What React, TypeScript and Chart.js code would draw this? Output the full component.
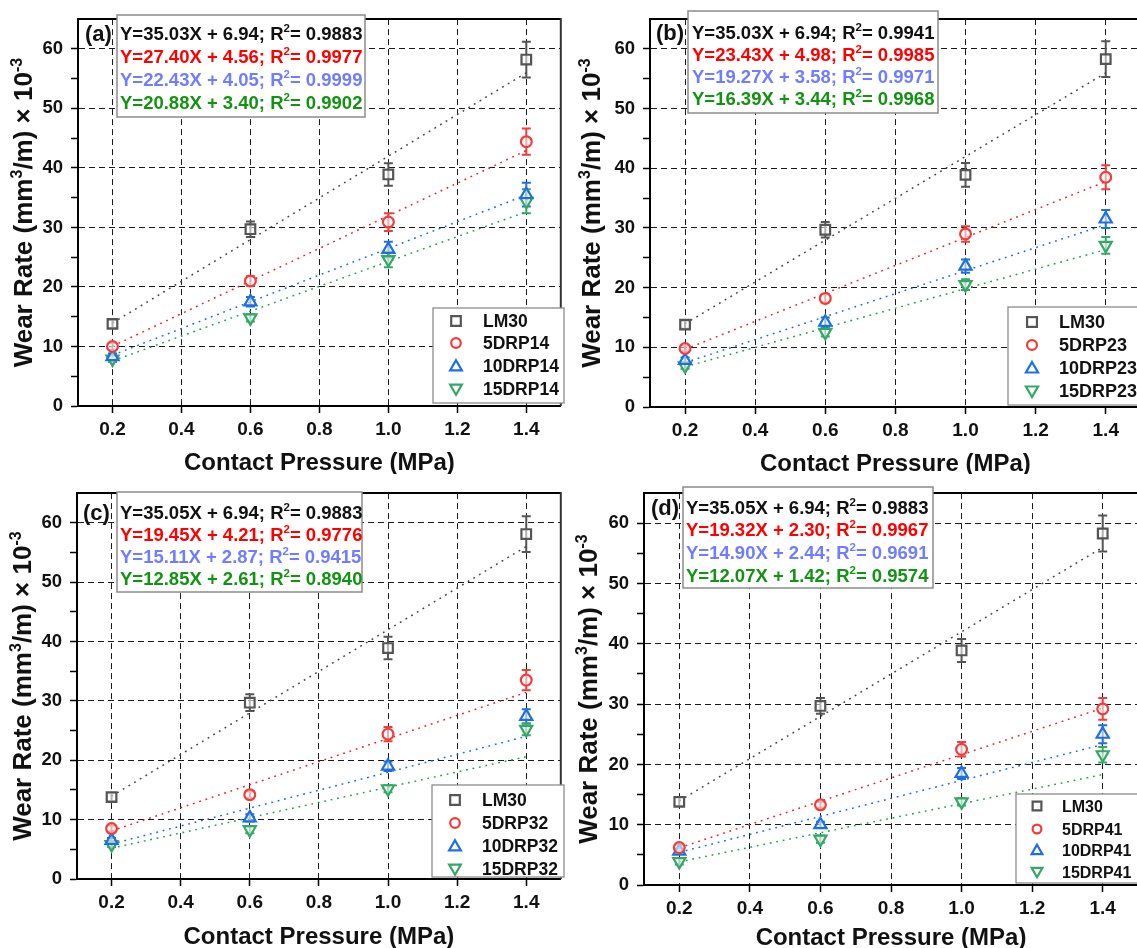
import React, { useEffect, useRef } from 'react';
import { Chart, registerables } from 'chart.js';

Chart.register(...registerables);

const FONT = "'Liberation Sans', Arial, Helvetica, sans-serif";

// ---------- data ----------
const pressure = [0.2, 0.6, 1.0, 1.4];
const xTickValues = [0.2, 0.4, 0.6, 0.8, 1.0, 1.2, 1.4];
const yTickValues = [0, 5, 10, 15, 20, 25, 30, 35, 40, 45, 50, 55, 60];

// panel (a)
const namesA = ['LM30', '5DRP14', '10DRP14', '15DRP14'];
const lm30A = [13.8, 29.7, 38.9, 58.2];
const lm30ErrA = [0.7, 1.3, 1.9, 3.0];
const drp5A = [10.0, 21.0, 30.9, 44.4];
const drp5ErrA = [0.6, 0.8, 1.5, 2.2];
const drp10A = [8.3, 17.5, 26.3, 35.5];
const drp10ErrA = [0.5, 0.8, 1.3, 2.0];
const drp15A = [7.9, 14.8, 24.6, 34.4];
const drp15ErrA = [0.5, 0.6, 1.3, 2.0];
const slopesA = [35.03, 27.40, 22.43, 20.88];
const interceptsA = [6.94, 4.56, 4.05, 3.40];
const r2A = ['0.9883', '0.9977', '0.9999', '0.9902'];

// panel (b)
const namesB = ['LM30', '5DRP23', '10DRP23', '15DRP23'];
const lm30B = [13.8, 29.7, 38.9, 58.3];
const lm30ErrB = [0.7, 1.3, 2.0, 3.0];
const drp5B = [9.8, 18.2, 29.0, 38.5];
const drp5ErrB = [0.5, 0.7, 1.3, 2.0];
const drp10B = [7.8, 14.2, 23.6, 31.5];
const drp10ErrB = [0.5, 0.8, 1.1, 1.5];
const drp15B = [6.9, 12.5, 20.5, 27.1];
const drp15ErrB = [0.5, 0.7, 0.9, 1.4];
const slopesB = [35.03, 23.43, 19.27, 16.39];
const interceptsB = [6.94, 4.98, 3.58, 3.44];
const r2B = ['0.9941', '0.9985', '0.9971', '0.9968'];

// panel (c)
const namesC = ['LM30', '5DRP32', '10DRP32', '15DRP32'];
const lm30C = [13.8, 29.7, 38.9, 58.1];
const lm30ErrC = [0.7, 1.4, 1.9, 3.0];
const drp5C = [8.5, 14.2, 24.4, 33.5];
const drp5ErrC = [0.5, 0.6, 1.2, 1.7];
const drp10C = [6.5, 10.3, 19.0, 27.4];
const drp10ErrC = [0.4, 0.6, 0.8, 1.2];
const drp15C = [5.8, 8.3, 15.2, 25.2];
const drp15ErrC = [0.4, 0.6, 0.6, 1.0];
const slopesC = [35.05, 19.45, 15.11, 12.85];
const interceptsC = [6.94, 4.21, 2.87, 2.61];
const r2C = ['0.9883', '0.9776', '0.9415', '0.8940'];

// panel (d)
const namesD = ['LM30', '5DRP41', '10DRP41', '15DRP41'];
const lm30D = [13.8, 29.7, 38.9, 58.3];
const lm30ErrD = [0.7, 1.3, 1.9, 3.0];
const drp5D = [6.2, 13.3, 22.5, 29.2];
const drp5ErrD = [0.5, 0.5, 1.2, 1.8];
const drp10D = [5.6, 10.0, 18.5, 25.0];
const drp10ErrD = [0.4, 0.5, 0.9, 1.5];
const drp15D = [3.9, 7.6, 13.8, 21.6];
const drp15ErrD = [0.5, 0.6, 0.6, 1.3];
const slopesD = [35.05, 19.32, 14.90, 12.07];
const interceptsD = [6.94, 2.30, 2.44, 1.42];
const r2D = ['0.9883', '0.9967', '0.9691', '0.9574'];

// ---------- styles ----------
const markerColors = ['#555555', '#f03c3c', '#1f6fe0', '#35a866'];
const trendColors = ['#444444', '#e8202a', '#1a6be0', '#20a050'];
const eqColors = ['#111111', '#ff0000', '#6f7dff', '#129312'];
const pointStyles = ['rect', 'circle', 'triangle', 'triangle'];
const pointRotations = [0, 0, 0, 180];
const pointRadii = [6.8, 5.4, 7, 7];

type Seg = { t: string; sup?: boolean };

function drawRich(ctx: CanvasRenderingContext2D, segs: Seg[], x: number, y: number, size: number, color: string) {
  ctx.fillStyle = color;
  ctx.textBaseline = 'alphabetic';
  ctx.textAlign = 'left';
  let cx = x;
  for (const s of segs) {
    const fs = s.sup ? size * 0.62 : size;
    ctx.font = `bold ${fs}px ${FONT}`;
    ctx.fillText(s.t, cx, s.sup ? y - size * 0.4 : y);
    cx += ctx.measureText(s.t).width;
  }
  return cx - x;
}

function richWidth(ctx: CanvasRenderingContext2D, segs: Seg[], size: number) {
  let w = 0;
  for (const s of segs) {
    const fs = s.sup ? size * 0.62 : size;
    ctx.font = `bold ${fs}px ${FONT}`;
    w += ctx.measureText(s.t).width;
  }
  return w;
}

function drawMarker(ctx: CanvasRenderingContext2D, idx: number, x: number, y: number, scale: number) {
  ctx.save();
  ctx.strokeStyle = markerColors[idx];
  ctx.fillStyle = '#ffffff';
  ctx.lineWidth = 2.2;
  ctx.beginPath();
  if (idx === 0) {
    const s = 4.8 * scale;
    ctx.rect(x - s, y - s, 2 * s, 2 * s);
  } else if (idx === 1) {
    ctx.arc(x, y, 4.8 * scale, 0, Math.PI * 2);
  } else {
    const r = 6.8 * scale;
    const rot = idx === 3 ? Math.PI : 0;
    let a = rot;
    const cy = y + (idx === 3 ? -1 : 1);
    ctx.moveTo(x + Math.sin(a) * r, cy - Math.cos(a) * r);
    a += (2 * Math.PI) / 3;
    ctx.lineTo(x + Math.sin(a) * r, cy - Math.cos(a) * r);
    a += (2 * Math.PI) / 3;
    ctx.lineTo(x + Math.sin(a) * r, cy - Math.cos(a) * r);
    ctx.closePath();
  }
  ctx.fill();
  ctx.stroke();
  ctx.restore();
}

type Geo = {
  cx: number; cy: number; cw: number; ch: number;
  area: { l: number; r: number; t: number; b: number };
  yTitleX: number; xTitleY: number;
  eq: { l: number; t: number; r: number; b: number; textX: number; lines: number[]; labelX: number; size: number };
  leg: { l: number; t: number; r: number; b: number; markerX: number; textX: number; rows: number[]; size: number };
};

type PanelDef = {
  tag: string;
  names: string[];
  values: number[][];
  errors: number[][];
  slopes: number[];
  intercepts: number[];
  r2: string[];
  geo: Geo;
};

const panels: PanelDef[] = [
  {
    tag: '(a)', names: namesA,
    values: [lm30A, drp5A, drp10A, drp15A],
    errors: [lm30ErrA, drp5ErrA, drp10ErrA, drp15ErrA],
    slopes: slopesA, intercepts: interceptsA, r2: r2A,
    geo: {
      cx: 0, cy: 0, cw: 570, ch: 474,
      area: { l: 78, r: 566, t: 13, b: 406 },
      yTitleX: 23, xTitleY: 461,
      eq: { l: 117, t: 15, r: 365, b: 117, textX: 120, lines: [33, 56, 79, 102], labelX: 85, size: 18.5 },
      leg: { l: 433, t: 308, r: 564, b: 403, markerX: 456, textX: 483, rows: [321, 343, 366, 389], size: 17.5 },
    },
  },
  {
    tag: '(b)', names: namesB,
    values: [lm30B, drp5B, drp10B, drp15B],
    errors: [lm30ErrB, drp5ErrB, drp10ErrB, drp15ErrB],
    slopes: slopesB, intercepts: interceptsB, r2: r2B,
    geo: {
      cx: 570, cy: 0, cw: 580, ch: 474,
      area: { l: 650, r: 1142, t: 10, b: 407 },
      yTitleX: 591, xTitleY: 462,
      eq: { l: 688, t: 11, r: 938, b: 113, textX: 692, lines: [32, 54, 76, 98], labelX: 656, size: 18.5 },
      leg: { l: 1008, t: 307, r: 1142, b: 405, markerX: 1032, textX: 1059, rows: [322, 345, 368, 391], size: 18 },
    },
  },
  {
    tag: '(c)', names: namesC,
    values: [lm30C, drp5C, drp10C, drp15C],
    errors: [lm30ErrC, drp5ErrC, drp10ErrC, drp15ErrC],
    slopes: slopesC, intercepts: interceptsC, r2: r2C,
    geo: {
      cx: 0, cy: 474, cw: 570, ch: 474,
      area: { l: 77, r: 565, t: 491, b: 879 },
      yTitleX: 22, xTitleY: 935,
      eq: { l: 117, t: 492, r: 362, b: 592, textX: 120, lines: [512, 534, 556, 578], labelX: 83, size: 18.5 },
      leg: { l: 432, t: 785, r: 564, b: 877, markerX: 455, textX: 482, rows: [800, 823, 846, 869], size: 17.5 },
    },
  },
  {
    tag: '(d)', names: namesD,
    values: [lm30D, drp5D, drp10D, drp15D],
    errors: [lm30ErrD, drp5ErrD, drp10ErrD, drp15ErrD],
    slopes: slopesD, intercepts: interceptsD, r2: r2D,
    geo: {
      cx: 570, cy: 474, cw: 580, ch: 474,
      area: { l: 644, r: 1138, t: 485, b: 885 },
      yTitleX: 588, xTitleY: 936,
      eq: { l: 683, t: 487, r: 933, b: 588, textX: 686, lines: [507, 529, 552, 575], labelX: 651, size: 18.5 },
      leg: { l: 1016, t: 794, r: 1142, b: 883, markerX: 1037, textX: 1062, rows: [806, 829, 850, 872], size: 16 },
    },
  },
];

function Panel({ p }: { p: PanelDef }) {
  const ref = useRef<HTMLCanvasElement>(null);

  useEffect(() => {
    const canvas = ref.current;
    if (!canvas) return;
    const g = p.geo;
    const { cx, cy, cw, ch, area } = g;

    const datasets: any[] = [];
    p.values.forEach((vals, i) => {
      datasets.push({
        label: p.names[i],
        data: pressure.map((x, j) => ({ x, y: vals[j] })),
        showLine: false,
        pointStyle: pointStyles[i],
        pointRotation: pointRotations[i],
        pointRadius: pointRadii[i],
        pointBorderWidth: 2.2,
        pointBorderColor: markerColors[i],
        pointBackgroundColor: 'rgba(255,255,255,0.55)',
        borderColor: markerColors[i],
      });
    });
    p.values.forEach((_, i) => {
      const xs = [pressure[0], pressure[pressure.length - 1]];
      datasets.push({
        label: p.names[i] + ' fit',
        data: xs.map((x) => ({ x, y: p.slopes[i] * x + p.intercepts[i] })),
        showLine: true,
        pointRadius: 0,
        borderColor: trendColors[i],
        borderWidth: 1.5,
        borderDash: [1.8, 4.8],
        fill: false,
      });
    });

    const deco = {
      id: 'deco',
      beforeDatasetsDraw(chart: any) {
        const ctx: CanvasRenderingContext2D = chart.ctx;
        const xs = chart.scales.x;
        const ys = chart.scales.y;
        ctx.save();
        ctx.lineWidth = 2;
        p.values.forEach((vals, i) => {
          ctx.strokeStyle = markerColors[i];
          vals.forEach((v, j) => {
            const e = p.errors[i][j];
            const px = xs.getPixelForValue(pressure[j]);
            const y1 = ys.getPixelForValue(v + e);
            const y2 = ys.getPixelForValue(v - e);
            ctx.beginPath();
            ctx.moveTo(px, y1);
            ctx.lineTo(px, y2);
            ctx.moveTo(px - 4.5, y1);
            ctx.lineTo(px + 4.5, y1);
            ctx.moveTo(px - 4.5, y2);
            ctx.lineTo(px + 4.5, y2);
            ctx.stroke();
          });
        });
        ctx.restore();
      },
      afterDatasetsDraw(chart: any) {
        const ctx: CanvasRenderingContext2D = chart.ctx;
        const ca = chart.chartArea;
        ctx.save();
        ctx.strokeStyle = '#000';
        ctx.lineWidth = 2;
        ctx.beginPath();
        ctx.moveTo(ca.left - 1, ca.top);
        ctx.lineTo(ca.right, ca.top);
        ctx.stroke();
        ctx.strokeStyle = '#333';
        ctx.beginPath();
        ctx.moveTo(ca.right, ca.top - 1);
        ctx.lineTo(ca.right, ca.bottom);
        ctx.stroke();
        ctx.restore();
      },
      afterDraw(chart: any) {
        const ctx: CanvasRenderingContext2D = chart.ctx;
        ctx.save();
        // equation box
        const eq = g.eq;
        ctx.fillStyle = '#ffffff';
        ctx.fillRect(eq.l - cx, eq.t - cy, eq.r - eq.l, eq.b - eq.t);
        ctx.strokeStyle = '#8c8c8c';
        ctx.lineWidth = 1.5;
        ctx.strokeRect(eq.l - cx, eq.t - cy, eq.r - eq.l, eq.b - eq.t);
        p.slopes.forEach((s, i) => {
          const segs: Seg[] = [
            { t: `Y=${s.toFixed(2)}X + ${p.intercepts[i].toFixed(2)}; R` },
            { t: '2', sup: true },
            { t: `= ${p.r2[i]}` },
          ];
          drawRich(ctx, segs, eq.textX - cx, eq.lines[i] - cy + 0.358 * eq.size, eq.size, eqColors[i]);
        });
        // panel tag
        ctx.font = `bold 22px ${FONT}`;
        ctx.fillStyle = '#111';
        ctx.textAlign = 'left';
        ctx.textBaseline = 'alphabetic';
        ctx.fillText(p.tag, eq.labelX - cx, eq.lines[0] - cy + 0.358 * 22);

        // legend
        const lg = g.leg;
        ctx.fillStyle = '#ffffff';
        ctx.fillRect(lg.l - cx, lg.t - cy, lg.r - lg.l, lg.b - lg.t);
        ctx.strokeStyle = '#8c8c8c';
        ctx.lineWidth = 1.3;
        ctx.strokeRect(lg.l - cx, lg.t - cy, lg.r - lg.l, lg.b - lg.t);
        p.names.forEach((n, i) => {
          drawMarker(ctx, i, lg.markerX - cx, lg.rows[i] - cy, lg.size / 17.5);
          ctx.font = `bold ${lg.size}px ${FONT}`;
          ctx.fillStyle = '#111';
          ctx.textAlign = 'left';
          ctx.textBaseline = 'alphabetic';
          ctx.fillText(n, lg.textX - cx, lg.rows[i] - cy + 0.358 * lg.size);
        });

        // axis titles
        const ca = chart.chartArea;
        const xt = 'Contact Pressure (MPa)';
        ctx.font = `bold 24px ${FONT}`;
        ctx.fillStyle = '#111';
        ctx.textAlign = 'center';
        ctx.fillText(xt, (ca.left + ca.right) / 2, g.xTitleY - cy + 0.358 * 24);

        const ySegs: Seg[] = [
          { t: 'Wear Rate (mm' },
          { t: '3', sup: true },
          { t: '/m) \u00d7 10' },
          { t: '-3', sup: true },
        ];
        const ySize = 26;
        const w = richWidth(ctx, ySegs, ySize);
        ctx.translate(g.yTitleX - cx, (ca.top + ca.bottom) / 2);
        ctx.rotate(-Math.PI / 2);
        drawRich(ctx, ySegs, -w / 2, 0.358 * ySize, ySize, '#111');
        ctx.restore();
      },
    };

    const chart = new Chart(canvas, {
      type: 'scatter',
      data: { datasets },
      options: {
        responsive: false,
        animation: false,
        events: [],
        layout: {
          padding: { left: 0, top: area.t - cy, right: cw - (area.r - cx), bottom: 0 },
        },
        plugins: { legend: { display: false }, tooltip: { enabled: false }, title: { display: false } },
        scales: {
          x: {
            type: 'linear',
            min: 0.1,
            max: 1.5,
            afterBuildTicks: (s: any) => {
              s.ticks = xTickValues.map((v) => ({ value: v }));
            },
            afterFit: (s: any) => {
              s.height = ch - (area.b - cy);
            },
            ticks: {
              autoSkip: false,
              maxRotation: 0,
              padding: 5,
              color: '#111',
              font: { family: FONT, size: 19, weight: 'bold' },
              callback: (v: any) => Number(v).toFixed(1),
            },
            grid: {
              color: '#1a1a1a',
              lineWidth: 1,
              tickLength: 7,
              tickColor: '#000',
              tickWidth: 1.5,
              tickBorderDash: [],
            },
            border: { display: true, color: '#000', width: 2, dash: [6, 4] },
          },
          y: {
            type: 'linear',
            min: 0,
            max: 65,
            afterBuildTicks: (s: any) => {
              s.ticks = yTickValues.map((v) => ({ value: v }));
            },
            afterFit: (s: any) => {
              s.width = area.l - cx;
            },
            ticks: {
              autoSkip: false,
              padding: 8,
              color: '#111',
              font: { family: FONT, size: 18.5, weight: 'bold' },
              callback: (v: any) => (Number(v) % 10 === 0 ? String(v) : ''),
            },
            grid: {
              color: (c: any) =>
                c.tick && c.tick.value % 10 === 0 && c.tick.value > 0 ? '#1a1a1a' : 'rgba(0,0,0,0)',
              lineWidth: 1,
              tickLength: 7,
              tickColor: '#000',
              tickWidth: 1.5,
              tickBorderDash: [],
            },
            border: { display: true, color: '#000', width: 2, dash: [6, 4] },
          },
        },
      } as any,
      plugins: [deco],
    });

    return () => {
      chart.destroy();
    };
  }, [p]);

  const g = p.geo;
  return (
    <canvas
      ref={ref}
      width={g.cw}
      height={g.ch}
      style={{ position: 'absolute', left: g.cx, top: g.cy, width: g.cw, height: g.ch }}
    />
  );
}

export default function App() {
  return (
    <div
      style={{
        position: 'absolute',
        left: 0,
        top: 0,
        width: 1137,
        height: 948,
        overflow: 'hidden',
        background: '#ffffff',
      }}
    >
      {panels.map((p) => (
        <Panel key={p.tag} p={p} />
      ))}
    </div>
  );
}
